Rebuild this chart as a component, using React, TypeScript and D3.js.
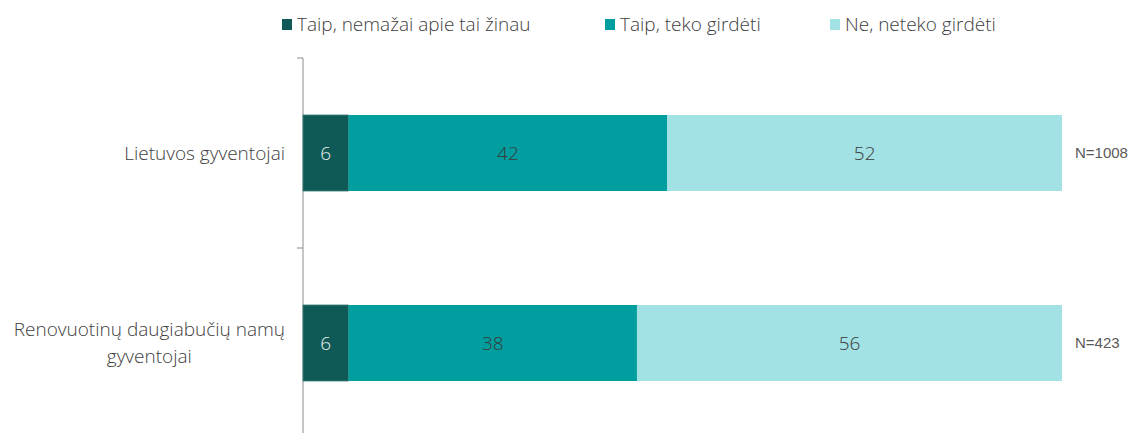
import React, { useRef, useEffect } from 'react';
import * as d3 from 'd3';

const categories = [['Lietuvos gyventojai'], ['Renovuotinų daugiabučių namų', 'gyventojai']];
const seriesNames = ['Taip, nemažai apie tai žinau', 'Taip, teko girdėti', 'Ne, neteko girdėti'];
const knowsMuch = [6, 6];
const heardOf = [42, 38];
const neverHeard = [52, 56];
const sampleSizes = ['N=1008', 'N=423'];

const colors = ['#0f5a56', '#009e9e', '#a2e1e4'];
const labelColors = ['#e8eeee', '#3a3a3a', '#3a3a3a'];
const font = "'Open Sans', 'Noto Sans', sans-serif";

const App = () => {
    const ref = useRef(null);

    useEffect(() => {
        document.body.style.margin = '0';
        const svg = d3.select(ref.current);
        svg.selectAll('*').remove();

        const width = 1136;
        const height = 433;
        const left = 303;
        const right = 1062;

        const rows = categories.map((c, i) => ({
            key: String(i),
            lines: c,
            values: [knowsMuch[i], heardOf[i], neverHeard[i]],
            n: sampleSizes[i]
        }));

        const x = d3.scaleLinear().domain([0, 100]).range([left, right]);
        const y = d3.scaleBand()
            .domain(rows.map(r => r.key))
            .range([58, 438])
            .paddingInner(0.6)
            .paddingOuter(0.3);

        // axis line with category boundary ticks
        const g = svg.append('g');
        g.append('line')
            .attr('x1', left).attr('x2', left)
            .attr('y1', 58).attr('y2', height)
            .attr('stroke', '#a6a6a6').attr('stroke-width', 1.3);
        const step = y.step();
        [0, 1, 2].forEach(i => {
            const ty = 58 + i * step;
            g.append('line')
                .attr('x1', left - 6).attr('x2', left)
                .attr('y1', ty).attr('y2', ty)
                .attr('stroke', '#a6a6a6').attr('stroke-width', 1.3);
        });

        rows.forEach(r => {
            let acc = 0;
            r.values.forEach((v, j) => {
                const x0 = x(acc);
                const x1 = x(acc + v);
                acc += v;
                svg.append('rect')
                    .attr('x', x0).attr('y', y(r.key))
                    .attr('width', x1 - x0).attr('height', y.bandwidth())
                    .attr('fill', colors[j])
                    .attr('stroke', j === 0 ? '#3d7d79' : 'none')
                    .attr('stroke-width', 0.8);
                svg.append('text')
                    .attr('x', (x0 + x1) / 2)
                    .attr('y', y(r.key) + y.bandwidth() / 2)
                    .attr('dy', '0.35em')
                    .attr('text-anchor', 'middle')
                    .attr('font-family', font)
                    .attr('font-weight', 300)
                    .attr('font-size', 19)
                    .attr('fill', labelColors[j])
                    .text(v);
            });

            svg.append('text')
                .attr('x', 1075)
                .attr('y', y(r.key) + y.bandwidth() / 2)
                .attr('dy', '0.35em')
                .attr('font-family', "'Liberation Sans', Arial, sans-serif")
                .attr('font-size', 15)
                .attr('fill', '#595959')
                .text(r.n);

            // category label: block right-aligned, lines centred within block
            const cy = y(r.key) + y.bandwidth() / 2;
            const lh = 27;
            const texts = r.lines.map((line, k) => svg.append('text')
                .attr('y', cy + (k - (r.lines.length - 1) / 2) * lh)
                .attr('dy', '0.35em')
                .attr('text-anchor', 'middle')
                .attr('font-family', font)
                .attr('font-weight', 300)
                .attr('font-size', 19)
                .attr('fill', '#404040')
                .text(line));
            const maxW = d3.max(texts, t => t.node().getComputedTextLength());
            texts.forEach(t => t.attr('x', 285 - maxW / 2));
        });

        // legend
        const legendX = [282, 605, 830];
        seriesNames.forEach((name, i) => {
            svg.append('rect')
                .attr('x', legendX[i]).attr('y', 19)
                .attr('width', 10).attr('height', 11)
                .attr('fill', colors[i]);
            svg.append('text')
                .attr('x', legendX[i] + 15).attr('y', 24)
                .attr('dy', '0.35em')
                .attr('font-family', font)
                .attr('font-weight', 300)
                .attr('font-size', 19)
                .attr('fill', '#404040')
                .text(name);
        });

        svg.attr('width', width).attr('height', height);
    }, []);

    return <svg ref={ref} width={1136} height={433} style={{ display: 'block', background: '#fff' }}></svg>;
};

export default App;
